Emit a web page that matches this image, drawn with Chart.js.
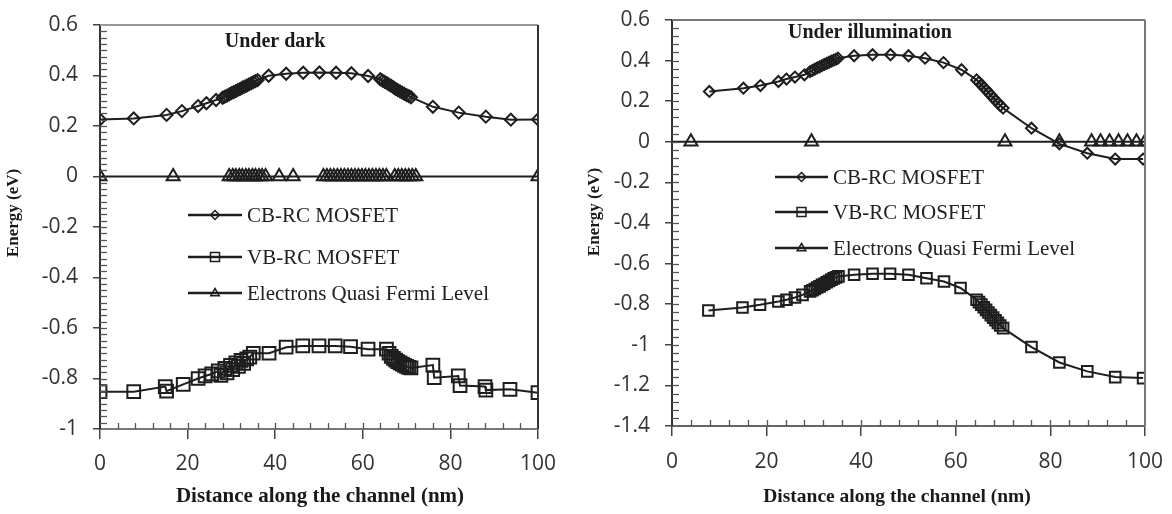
<!DOCTYPE html>
<html>
<head>
<meta charset="utf-8">
<script src="https://cdn.jsdelivr.net/npm/chart.js@4.4.0/dist/chart.umd.min.js"></script>
<style>
    html, body { margin: 0; padding: 0; background: #fff; }
    #painel { position: relative; width: 1172px; height: 514px; }
    .caixa { position: absolute; top: 0; height: 514px; }
</style>
</head>
<body>
<div id="painel">
    <div class="caixa" style="left:0;width:580px"><canvas id="grafico-escuro" width="580" height="514"></canvas></div>
    <div class="caixa" style="left:580px;width:592px"><canvas id="grafico-luz" width="592" height="514"></canvas></div>
</div>
<script>
// ---- dados: sob escuro ----
const rotulosSeries = ['CB-RC MOSFET', 'VB-RC MOSFET', 'Electrons Quasi Fermi Level'];
const ticksX = [0, 20, 40, 60, 80, 100];
const ticksYEscuro = [0.6, 0.4, 0.2, 0, -0.2, -0.4, -0.6, -0.8, -1];
const ticksYLuz = [0.6, 0.4, 0.2, 0, -0.2, -0.4, -0.6, -0.8, -1, -1.2, -1.4];

const xCbEscuro = [0, 7.7, 15.2, 18.7, 22.4, 24.3, 26.5, 28.0, 28.5, 29.0, 29.5, 30.0, 30.5, 31.0, 31.5, 32.0, 32.5, 33.0, 33.5, 34.0, 34.5, 35.0, 35.5, 36.0, 38.5, 42.5, 46.4, 50.1, 53.9, 57.4, 61.2, 64.0, 64.5, 65.0, 65.5, 66.0, 66.5, 67.0, 67.5, 68.0, 68.5, 69.0, 69.5, 70.0, 70.5, 71.0, 76.0, 81.9, 88.1, 93.8, 100];
const yCbEscuro = [0.226, 0.230, 0.244, 0.259, 0.279, 0.290, 0.303, 0.312, 0.316, 0.320, 0.325, 0.330, 0.334, 0.338, 0.343, 0.347, 0.352, 0.356, 0.360, 0.365, 0.369, 0.374, 0.378, 0.382, 0.399, 0.407, 0.411, 0.412, 0.411, 0.409, 0.398, 0.385, 0.380, 0.375, 0.370, 0.364, 0.359, 0.353, 0.347, 0.342, 0.337, 0.332, 0.327, 0.322, 0.318, 0.314, 0.276, 0.253, 0.237, 0.225, 0.226];

const xVbEscuro = [0, 7.7, 14.9, 15.2, 19.0, 22.4, 24.0, 25.5, 27.0, 27.6, 28.5, 29.0, 29.8, 30.3, 31.0, 31.6, 32.2, 32.8, 33.5, 34.2, 35.0, 38.6, 42.5, 46.3, 50.0, 53.7, 57.2, 61.2, 65.4, 66.0, 66.5, 67.0, 67.5, 68.0, 68.5, 69.0, 69.5, 70.0, 70.5, 71.0, 76.0, 76.3, 81.8, 82.2, 87.9, 88.1, 93.6, 100];
const yVbEscuro = [-0.852, -0.852, -0.832, -0.850, -0.823, -0.800, -0.790, -0.782, -0.770, -0.788, -0.760, -0.778, -0.748, -0.765, -0.738, -0.752, -0.728, -0.740, -0.722, -0.715, -0.700, -0.700, -0.676, -0.671, -0.671, -0.671, -0.674, -0.684, -0.684, -0.700, -0.712, -0.720, -0.727, -0.733, -0.738, -0.743, -0.748, -0.752, -0.756, -0.758, -0.747, -0.797, -0.790, -0.828, -0.832, -0.846, -0.843, -0.856];

const xFermiEscuro = [0, 16.7, 29.5, 30.3, 31.0, 31.8, 32.5, 33.3, 34.0, 34.8, 35.5, 36.3, 37.0, 37.8, 40.9, 44.1, 51.0, 51.8, 52.6, 53.4, 54.2, 55.0, 55.8, 56.6, 57.4, 58.2, 59.0, 59.8, 60.6, 61.4, 62.2, 63.0, 63.8, 64.6, 65.4, 67.3, 68.1, 68.9, 69.7, 70.5, 71.3, 72.1, 100];
const yFermiEscuro = [0, 0, 0, 0, 0, 0, 0, 0, 0, 0, 0, 0, 0, 0, 0, 0, 0, 0, 0, 0, 0, 0, 0, 0, 0, 0, 0, 0, 0, 0, 0, 0, 0, 0, 0, 0, 0, 0, 0, 0, 0, 0, 0];

// ---- dados: sob iluminacao ----
const xCbLuz = [7.9, 15.1, 18.7, 22.5, 24.2, 26.0, 28.0, 29.2, 29.7, 30.2, 30.7, 31.2, 31.7, 32.2, 32.7, 33.2, 33.7, 34.2, 34.7, 35.1, 38.5, 42.4, 46.2, 50.0, 53.5, 57.4, 61.2, 64.4, 64.9, 65.4, 65.9, 66.4, 66.9, 67.4, 67.9, 68.4, 68.9, 69.4, 70.0, 76.0, 81.9, 87.8, 93.7, 99.6];
const yCbLuz = [0.248, 0.264, 0.277, 0.297, 0.309, 0.319, 0.330, 0.346, 0.352, 0.358, 0.364, 0.369, 0.375, 0.381, 0.386, 0.392, 0.397, 0.402, 0.407, 0.412, 0.424, 0.429, 0.429, 0.424, 0.412, 0.390, 0.355, 0.305, 0.293, 0.281, 0.268, 0.256, 0.243, 0.230, 0.217, 0.204, 0.192, 0.179, 0.166, 0.067, -0.010, -0.056, -0.085, -0.085];

const xVbLuz = [7.7, 14.9, 18.6, 22.5, 24.2, 26.0, 27.6, 29.2, 29.7, 30.2, 30.7, 31.2, 31.7, 32.2, 32.7, 33.2, 33.7, 34.2, 34.7, 35.2, 38.5, 42.4, 46.1, 50.0, 53.8, 57.5, 61.0, 64.4, 64.9, 65.4, 65.9, 66.4, 66.9, 67.4, 67.9, 68.4, 68.9, 69.4, 70.0, 76.0, 81.9, 87.8, 93.7, 99.6];
const yVbLuz = [-0.831, -0.816, -0.803, -0.787, -0.778, -0.767, -0.754, -0.737, -0.731, -0.725, -0.718, -0.712, -0.705, -0.699, -0.692, -0.686, -0.679, -0.673, -0.668, -0.663, -0.655, -0.650, -0.650, -0.655, -0.672, -0.688, -0.720, -0.778, -0.790, -0.802, -0.815, -0.828, -0.841, -0.854, -0.866, -0.879, -0.892, -0.905, -0.918, -1.011, -1.087, -1.131, -1.159, -1.164];

const xFermiLuz = [0, 4.0, 29.5, 70.4, 81.9, 88.7, 90.6, 92.5, 94.4, 96.3, 98.2, 100];
const yFermiLuz = [0, 0, 0, 0, 0, 0, 0, 0, 0, 0, 0, 0];
const raioFermiLuz = [0, 7.5, 7.5, 7.5, 7.5, 7.5, 7.5, 7.5, 7.5, 7.5, 7.5, 7.5];

const corLinha = '#1e1e1e';

function juntarPontos(xs, ys) {
    return xs.map((x, i) => ({ x: x, y: ys[i] }));
}

function serie(rotulo, xs, ys, estilo, raio) {
    return {
        label: rotulo,
        data: juntarPontos(xs, ys),
        borderColor: corLinha,
        borderWidth: 2,
        pointStyle: estilo,
        pointRadius: raio,
        pointBorderColor: corLinha,
        pointBackgroundColor: 'rgba(0,0,0,0)',
        pointBorderWidth: 2,
        tension: 0,
        fill: false
    };
}

// desenha um marcador pequeno para a legenda
function desenharMarcador(ctx, estilo, x, y, r) {
    ctx.beginPath();
    if (estilo === 'rectRot') {
        ctx.moveTo(x - r, y); ctx.lineTo(x, y - r); ctx.lineTo(x + r, y); ctx.lineTo(x, y + r);
    } else if (estilo === 'rect') {
        ctx.rect(x - r, y - r, 2 * r, 2 * r);
    } else {
        ctx.moveTo(x, y - r); ctx.lineTo(x + r * 0.95, y + r * 0.6); ctx.lineTo(x - r * 0.95, y + r * 0.6);
    }
    ctx.closePath();
    ctx.stroke();
}

const pluginDecoracao = {
    id: 'decoracao',
    afterDraw(chart, args, op) {
        const ctx = chart.ctx;
        const area = chart.chartArea;
        const sx = chart.scales.x;
        const sy = chart.scales.y;
        ctx.save();

        // borda de cima e da direita
        ctx.lineWidth = 2;
        ctx.strokeStyle = op.corTopo;
        ctx.beginPath(); ctx.moveTo(area.left, area.top); ctx.lineTo(area.right, area.top); ctx.stroke();
        ctx.strokeStyle = op.corDireita;
        ctx.beginPath(); ctx.moveTo(area.right, area.top); ctx.lineTo(area.right, area.bottom); ctx.stroke();

        // marcas menores para dentro
        ctx.strokeStyle = '#555';
        ctx.lineWidth = 1.3;
        const nx = Math.round((sx.max - sx.min) / op.passoX);
        for (let i = 1; i < nx; i++) {
            const px = Math.round(sx.getPixelForValue(sx.min + i * op.passoX)) + 0.5;
            ctx.beginPath(); ctx.moveTo(px, area.bottom); ctx.lineTo(px, area.bottom - 6); ctx.stroke();
        }
        const ny = Math.round((sy.max - sy.min) / op.passoY);
        for (let i = 1; i < ny; i++) {
            const py = Math.round(sy.getPixelForValue(sy.min + i * op.passoY)) + 0.5;
            ctx.beginPath(); ctx.moveTo(area.left, py); ctx.lineTo(area.left + 7, py); ctx.stroke();
        }

        // titulo interno
        ctx.fillStyle = '#1a1a1a';
        ctx.textAlign = 'center';
        ctx.textBaseline = 'middle';
        ctx.font = 'bold 20px "Liberation Serif"';
        ctx.fillText(op.titulo, op.tituloX, op.tituloY);

        // titulos dos eixos
        ctx.font = 'bold ' + op.tamanhoEixoX + 'px "Liberation Serif"';
        ctx.fillText('Distance along the channel (nm)', op.eixoX[0], op.eixoX[1]);
        ctx.save();
        ctx.translate(op.eixoY[0], op.eixoY[1]);
        ctx.rotate(-Math.PI / 2);
        ctx.font = 'bold 17px "Liberation Serif"';
        ctx.fillText('Energy (eV)', 0, 0);
        ctx.restore();

        // legenda
        ctx.textAlign = 'left';
        ctx.font = '21px "Liberation Serif"';
        chart.data.datasets.forEach((ds, i) => {
            const y = op.legendaY[i];
            ctx.strokeStyle = corLinha;
            ctx.lineWidth = 2.5;
            ctx.beginPath(); ctx.moveTo(op.legendaX[0], y); ctx.lineTo(op.legendaX[1], y); ctx.stroke();
            ctx.lineWidth = 1.5;
            desenharMarcador(ctx, ds.pointStyle, (op.legendaX[0] + op.legendaX[1]) / 2, y, 4.5);
            ctx.fillStyle = '#222';
            ctx.fillText(ds.label, op.legendaX[2], y + 1);
        });
        ctx.restore();
    }
};

function opcoesEscalas(ticksY, corEixoX, medidas) {
    return {
        x: {
            type: 'linear',
            min: ticksX[0],
            max: ticksX[ticksX.length - 1],
            afterBuildTicks: (s) => { s.ticks = ticksX.map(v => ({ value: v })); },
            afterFit: (s) => { s.height = medidas.altura; s.paddingLeft = 0; s.paddingRight = 0; },
            grid: { drawOnChartArea: false, drawTicks: true, tickLength: 10, color: '#444', lineWidth: 1.5 },
            border: { display: true, color: corEixoX, width: 2 },
            ticks: { padding: medidas.padding, color: '#333', font: { family: '"Open Sans"', size: 21 } }
        },
        y: {
            type: 'linear',
            min: ticksY[ticksY.length - 1],
            max: ticksY[0],
            afterBuildTicks: (s) => { s.ticks = ticksY.map(v => ({ value: v })); },
            afterFit: (s) => { s.width = medidas.largura; s.paddingTop = 0; s.paddingBottom = 0; },
            grid: { drawOnChartArea: false, drawTicks: true, tickLength: 7, color: '#444', lineWidth: 1.5 },
            border: { display: true, color: '#333', width: 2 },
            ticks: {
                padding: 15, color: '#333', font: { family: '"Open Sans"', size: 21 },
                callback: (v) => String(+v.toFixed(1))
            }
        }
    };
}

const graficoEscuro = new Chart(document.getElementById('grafico-escuro').getContext('2d'), {
    type: 'line',
    data: {
        datasets: [
            serie(rotulosSeries[0], xCbEscuro, yCbEscuro, 'rectRot', 6),
            serie(rotulosSeries[1], xVbEscuro, yVbEscuro, 'rect', 9),
            serie(rotulosSeries[2], xFermiEscuro, yFermiEscuro, 'triangle', 7.5)
        ]
    },
    options: {
        responsive: false,
        animation: false,
        layout: { padding: { left: 0, right: 42, top: 25, bottom: 0 } },
        scales: opcoesEscalas(ticksYEscuro, '#777', { altura: 85, largura: 100, padding: 12 }),
        plugins: {
            legend: { display: false },
            tooltip: { enabled: false },
            decoracao: {
                corTopo: '#999', corDireita: '#333',
                passoX: 4, passoY: 0.025,
                titulo: 'Under dark', tituloX: 275, tituloY: 42,
                tamanhoEixoX: 21, eixoX: [320, 497], eixoY: [14, 213],
                legendaX: [188, 242, 247], legendaY: [215, 257, 293]
            }
        }
    },
    plugins: [pluginDecoracao]
});

const graficoLuz = new Chart(document.getElementById('grafico-luz').getContext('2d'), {
    type: 'line',
    data: {
        datasets: [
            serie(rotulosSeries[0], xCbLuz, yCbLuz, 'rectRot', 5.5),
            serie(rotulosSeries[1], xVbLuz, yVbLuz, 'rect', 7.5),
            Object.assign(serie(rotulosSeries[2], xFermiLuz, yFermiLuz, 'triangle', 7.5), { pointRadius: raioFermiLuz })
        ]
    },
    options: {
        responsive: false,
        animation: false,
        layout: { padding: { left: 0, right: 27, top: 20, bottom: 0 } },
        scales: opcoesEscalas(ticksYLuz, '#666', { altura: 88, largura: 92, padding: 13 }),
        plugins: {
            legend: { display: false },
            tooltip: { enabled: false },
            decoracao: {
                corTopo: '#777', corDireita: '#777',
                passoX: 4, passoY: 0.04,
                titulo: 'Under illumination', tituloX: 290, tituloY: 33,
                tamanhoEixoX: 19.5, eixoX: [317, 497], eixoY: [15, 212],
                legendaX: [195, 248, 253], legendaY: [177, 212, 248]
            }
        }
    },
    plugins: [pluginDecoracao]
});
</script>
</body>
</html>
